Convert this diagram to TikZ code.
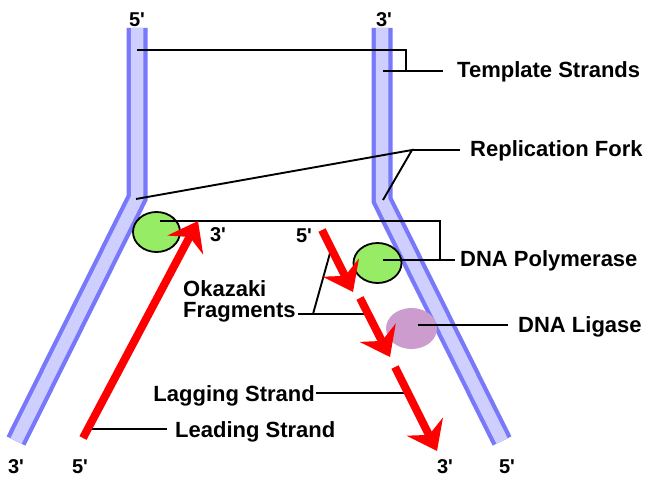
\documentclass[tikz,border=0pt]{standalone}
\usepackage{fontspec}
\setmainfont{Liberation Sans}[Ligatures=TeXOff]
\usetikzlibrary{arrows.meta,shapes.geometric}

\definecolor{strandedge}{RGB}{120,120,250}
\definecolor{strandfill}{RGB}{206,206,255}
\definecolor{polygreen}{RGB}{150,236,100}
\definecolor{ligasepink}{RGB}{204,156,206}

\tikzset{
  strandout/.style={line width=21pt, strandedge, line join=miter},
  strandin/.style={line width=12.5pt, strandfill, line join=miter},
  enzyme/.style={draw=black, line width=1.8pt, fill=polygreen},
  ligase/.style={fill=ligasepink},
  leader/.style={draw=black, line width=1.9pt},
  newdna/.style={draw=red, line width=8pt,
    -{Stealth[length=27pt,width=40pt,inset=9pt]}},
  lbl/.style={inner sep=0pt, anchor=base west,
    font=\fontsize{22}{22}\selectfont\bfseries},
  endlbl/.style={inner sep=0pt, anchor=base,
    font=\fontsize{20}{20}\selectfont\bfseries},
}

\begin{document}
\begin{tikzpicture}[x=1pt, y=-1pt]
  \fill[white] (0,0) rectangle (645,478);
  \useasboundingbox (0,0) rectangle (645,478);

  % template strands, each with a bend at the fork
  \coordinate (Ltop) at (137,28);
  \coordinate (Lbend) at (137,198);
  \coordinate (Lbot) at (16,441);
  \coordinate (Rtop) at (382,28);
  \coordinate (Rbend) at (382,200);
  \coordinate (Rbot) at (502,441);
  \foreach \s in {strandout,strandin}{
    \draw[\s] (Ltop) -- (Lbend) -- (Lbot);
    \draw[\s] (Rtop) -- (Rbend) -- (Rbot);
  }

  % enzymes
  \node[enzyme, ellipse, minimum width=47pt, minimum height=40pt, inner sep=0pt]
    (pol1) at (156.5,232) {};
  \node[enzyme, ellipse, minimum width=48pt, minimum height=40pt, inner sep=0pt]
    (pol2) at (377.5,263) {};
  \node[ligase, ellipse, minimum width=51pt, minimum height=41pt, inner sep=0pt]
    (lig) at (411.5,328.5) {};

  % labels
  \node[lbl] (tmpl) at (457,78) {Template Strands};
  \node[lbl] (fork) at (470,157) {Replication Fork};
  \node[lbl] (poly) at (460,267) {DNA Polymerase};
  \node[lbl] (liga) at (518,332) {DNA Ligase};
  \node[lbl] (okz)  at (183,297) {Okazaki};
  \node[lbl] (frg)  at (183,317) {Fragments};
  \node[lbl, anchor=base east] (lag) at (315,401) {Lagging Strand};
  \node[lbl] (lead) at (175,437) {Leading Strand};

  \node[endlbl] (t5) at (137,27) {5\textquotesingle};
  \node[endlbl] (t3) at (384,27) {3\textquotesingle};
  \node[endlbl] (b3a) at (16,473) {3\textquotesingle};
  \node[endlbl] (b5a) at (80,473) {5\textquotesingle};
  \node[endlbl] (b3b) at (445,473) {3\textquotesingle};
  \node[endlbl] (b5b) at (507,473) {5\textquotesingle};
  \node[endlbl] (m3) at (218,242) {3\textquotesingle};
  \node[endlbl] (m5) at (304,243) {5\textquotesingle};

  % leader lines
  \coordinate (tA) at (137,50);
  \coordinate (tB) at (406,50);
  \coordinate (tC) at (406,71);
  \coordinate (tD) at (383,71);
  \draw[leader] (tA) -- (tB) -- (tC);
  \draw[leader] (tD) -- ([xshift=-14pt,yshift=7pt]tmpl.base west);

  \coordinate (fJ) at (412,150);
  \coordinate (fL) at (136,199);
  \coordinate (fR) at (383,200);
  \draw[leader] (fL) -- (fJ) -- (fR);
  \draw[leader] (fJ) -- ([xshift=-10pt,yshift=7pt]fork.base west);

  \coordinate (pA) at (160,221);
  \coordinate (pB) at (440,221);
  \coordinate (pC) at (440,260);
  \coordinate (pD) at (383,260);
  \draw[leader] (pA) -- (pB) -- (pC);
  \draw[leader] (pD) -- ([xshift=-5pt,yshift=7pt]poly.base west);

  \coordinate (gA) at (418,325);
  \draw[leader] (gA) -- ([xshift=-10pt,yshift=7pt]liga.base west);

  \coordinate (oJ) at (313,314);
  \coordinate (o1) at (332,246);
  \coordinate (o2) at (368,314);
  \draw[leader] ([xshift=2pt,yshift=3pt]frg.base east) -- (oJ) -- (o2);
  \draw[leader] (oJ) -- (o1);

  \coordinate (lgA) at (410,393);
  \draw[leader] ([xshift=1pt,yshift=8pt]lag.base east) -- (lgA);

  \coordinate (ldA) at (88,429);
  \draw[leader] (ldA) -- ([xshift=-8pt,yshift=8pt]lead.base west);

  % leading strand and Okazaki fragments of the lagging strand
  \coordinate (ls0) at (83,438);
  \coordinate (ls1) at (198,221);
  \draw[newdna] (ls0) -- (ls1);
  \coordinate (k1a) at (322,230);
  \coordinate (k1b) at (353,292);
  \draw[newdna] (k1a) -- (k1b);
  \coordinate (k2a) at (360,298);
  \coordinate (k2b) at (390,357);
  \draw[newdna] (k2a) -- (k2b);
  \coordinate (k3a) at (395,367);
  \coordinate (k3b) at (437,451);
  \draw[newdna] (k3a) -- (k3b);
\end{tikzpicture}
\end{document}
